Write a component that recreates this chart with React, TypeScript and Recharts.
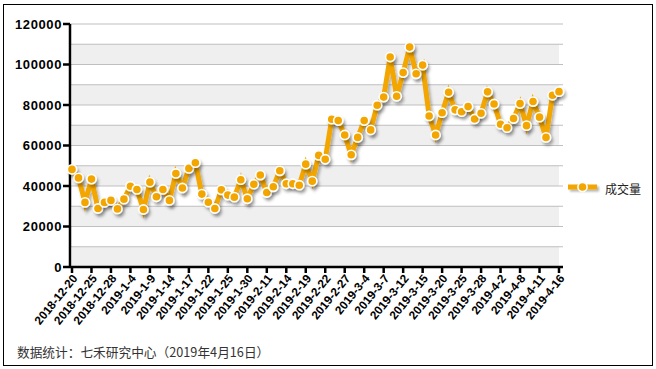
import React from 'react';
import { LineChart, Line, XAxis, YAxis, ReferenceArea, ReferenceLine } from 'recharts';

const dates = [
  '2018-12-20', '2018-12-21', '2018-12-24', '2018-12-25', '2018-12-26', '2018-12-27', '2018-12-28',
  '2019-1-2', '2019-1-3', '2019-1-4', '2019-1-7', '2019-1-8', '2019-1-9', '2019-1-10', '2019-1-11',
  '2019-1-14', '2019-1-15', '2019-1-16', '2019-1-17', '2019-1-18', '2019-1-21', '2019-1-22',
  '2019-1-23', '2019-1-24', '2019-1-25', '2019-1-28', '2019-1-29', '2019-1-30', '2019-1-31',
  '2019-2-1', '2019-2-11', '2019-2-12', '2019-2-13', '2019-2-14', '2019-2-15', '2019-2-18',
  '2019-2-19', '2019-2-20', '2019-2-21', '2019-2-22', '2019-2-25', '2019-2-26', '2019-2-27',
  '2019-2-28', '2019-3-1', '2019-3-4', '2019-3-5', '2019-3-6', '2019-3-7', '2019-3-8',
  '2019-3-11', '2019-3-12', '2019-3-13', '2019-3-14', '2019-3-15', '2019-3-18', '2019-3-19',
  '2019-3-20', '2019-3-21', '2019-3-22', '2019-3-25', '2019-3-26', '2019-3-27', '2019-3-28',
  '2019-3-29', '2019-4-1', '2019-4-2', '2019-4-3', '2019-4-4', '2019-4-8', '2019-4-9',
  '2019-4-10', '2019-4-11', '2019-4-12', '2019-4-15', '2019-4-16',
];

const volume = [
  48200, 44000, 31900, 43400, 28900, 31900, 32900, 28700, 33500, 39900,
  38300, 28400, 41900, 34700, 38300, 32900, 46200, 39000, 48700, 51500,
  36000, 32000, 28900, 38100, 35500, 34500, 43100, 33700, 40900, 45400,
  36800, 39600, 47500, 41100, 41100, 40400, 50800, 42400, 55100, 53200,
  73000, 72300, 65200, 55400, 64000, 72300, 67700, 79900, 83900, 103700,
  84300, 96000, 108600, 95400, 99700, 74600, 65200, 76200, 86300, 77600,
  76700, 79200, 73100, 75900, 86500, 80500, 70500, 68800, 73300, 80700,
  69800, 81700, 74000, 64000, 84800, 86600,
];

const yTicks = [0, 20000, 40000, 60000, 80000, 100000, 120000];
const gridValues = [10000, 20000, 30000, 40000, 50000, 60000, 70000, 80000, 90000, 100000, 110000, 120000];
const bands = [
  [0, 10000], [20000, 30000], [40000, 50000], [60000, 70000], [80000, 90000], [100000, 110000],
];

const data = dates.map((d, i) => ({ date: d, value: volume[i] }));

const ORANGE = '#f3a600';
const FONT = '"Liberation Sans", Arial, sans-serif';

const DateTick = ({ x, y, payload }: any) => (
  <g transform={`translate(${x + 3},${y + 1})`}>
    <text
      x={0}
      y={0}
      dy={4}
      textAnchor="end"
      transform="rotate(-51)"
      fontSize={11.8}
      fontWeight="bold"
      fontFamily={FONT}
      fill="#000"
    >
      {payload.value}
    </text>
  </g>
);

const Dot = ({ cx, cy, index }: any) => (
  <circle
    key={`dot-${index}`}
    cx={cx}
    cy={cy}
    r={4.6}
    fill={ORANGE}
    stroke="#fff"
    strokeWidth={1.6}
    filter="url(#dropShadow)"
  />
);

export default function App() {
  return (
    <div style={{ position: 'absolute', left: 0, top: 0, width: 656, height: 369, background: '#fff', fontFamily: FONT }}>
      <div
        style={{
          position: 'absolute',
          left: 3,
          top: 4,
          width: 648,
          height: 360,
          border: '1px solid #000',
        }}
      />
      <LineChart width={656} height={369} data={data} margin={{ top: 24, right: 93, bottom: 0, left: 10 }}>
        <defs>
          <filter id="dropShadow" filterUnits="userSpaceOnUse" x={0} y={0} width={656} height={369}>
            <feDropShadow dx={2} dy={3} stdDeviation={1.4} floodColor="#000" floodOpacity={0.3} />
          </filter>
        </defs>
        {bands.map(([a, b]) => (
          <ReferenceArea key={`band-${a}`} y1={a} y2={b} fill="#efefef" fillOpacity={1} stroke="none" />
        ))}
        {gridValues.map((v) => (
          <ReferenceLine key={`grid-${v}`} y={v} stroke="#bfbfbf" strokeWidth={1} />
        ))}
        <XAxis
          dataKey="date"
          interval={2}
          height={102}
          padding={{ left: 2, right: 4 }}
          axisLine={{ stroke: '#000', strokeWidth: 2.5 }}
          tickLine={{ stroke: '#000', strokeWidth: 2.5 }}
          tickSize={6}
          tick={<DateTick />}
        />
        <YAxis
          domain={[0, 120000]}
          ticks={yTicks}
          interval={0}
          width={60}
          axisLine={{ stroke: '#000', strokeWidth: 2.5 }}
          tickLine={{ stroke: '#000', strokeWidth: 2.5 }}
          tickSize={7}
          tickMargin={1}
          tick={{ fontSize: 13, fontWeight: 'bold', fill: '#000', fontFamily: FONT, letterSpacing: 0.6 }}
        />
        <Line
          type="linear"
          dataKey="value"
          stroke={ORANGE}
          strokeWidth={5}
          filter="url(#dropShadow)"
          dot={<Dot />}
          activeDot={false}
          isAnimationActive={false}
        />
      </LineChart>
      <div style={{ position: 'absolute', left: 567, top: 179, display: 'flex', alignItems: 'center' }}>
        <svg width={34} height={18}>
          <defs>
            <filter id="legendShadow" filterUnits="userSpaceOnUse" x={0} y={0} width={34} height={18}>
              <feDropShadow dx={2} dy={2} stdDeviation={1.2} floodColor="#000" floodOpacity={0.3} />
            </filter>
          </defs>
          <rect x={1} y={5.5} width={29} height={5} fill={ORANGE} filter="url(#legendShadow)" />
          <circle cx={15.5} cy={8} r={4.6} fill={ORANGE} stroke="#fff" strokeWidth={1.6} />
        </svg>
        <span style={{ marginLeft: 4, fontSize: 12, color: '#222', fontFamily: '"Noto Sans CJK SC", sans-serif' }}>成交量</span>
      </div>
      <div
        style={{
          position: 'absolute',
          left: 17,
          top: 342,
          fontSize: 12.7,
          color: '#333',
          fontFamily: '"Noto Sans CJK SC", sans-serif',
          whiteSpace: 'nowrap',
        }}
      >
        数据统计：七禾研究中心（2019年4月16日）
      </div>
    </div>
  );
}
